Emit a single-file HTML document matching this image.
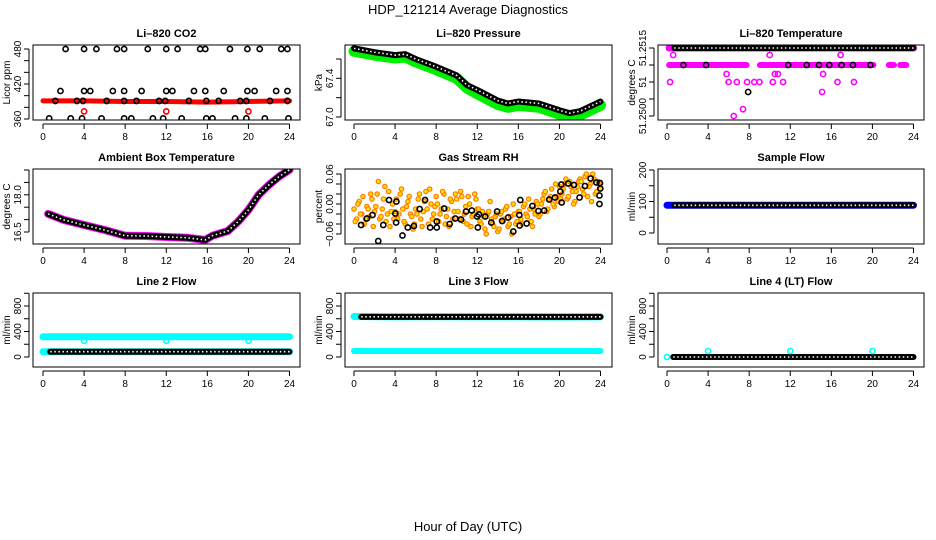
<!DOCTYPE html>
<html><head><meta charset="utf-8"><style>
body{margin:0;background:#fff}
svg{display:block;font-family:"Liberation Sans",Arial,sans-serif}
</style></head><body>
<svg id="fig" width="936" height="540" viewBox="0 0 936 540" xmlns="http://www.w3.org/2000/svg">
<rect width="936" height="540" fill="#fff"/>
<text x="468" y="14" font-size="13" text-anchor="middle">HDP_121214  Average Diagnostics</text>
<text x="468" y="531" font-size="13" text-anchor="middle">Hour of Day (UTC)</text>
</svg>
<script>
// ---------- data ----------
const xTicks=[0,4,8,12,16,20,24];
// CO2
const co2TopHours=[2.2,4.0,5.2,7.2,7.9,10.2,12.0,13.1,15.3,15.8,18.2,19.9,21.1,23.2,23.8];
const co2MidHours=[1.7,4.0,4.6,6.8,7.9,9.6,12.0,12.6,14.7,15.8,17.6,19.9,20.6,22.7,23.8];
const co2RedLevelHours=[1.2,3.3,3.9,6.2,7.9,9.1,11.3,11.9,14.2,15.9,17.1,19.2,19.8,22.1,23.8];
const co2LowHours=[0.6,2.7,3.8,5.7,7.9,8.6,10.7,11.7,13.5,15.9,16.5,18.7,19.8,21.6,23.9];
const co2Levels=[480,408,391,361];
const co2RedBandHours=[0,4,8,12,16,20,24];
const co2RedBand=[391,391,390,390,389,390,391];
const co2RedPtsHours=[4,12,20];
const co2RedPts=[373,373,373];
// Pressure
const presHours=[0,2,4,5,6,8,10,11,12,14,15,16,18,20,21,22,23,24];
const presBlack=[67.71,67.67,67.64,67.65,67.60,67.52,67.43,67.33,67.28,67.17,67.14,67.16,67.14,67.07,67.04,67.06,67.11,67.16];
const presGreen=[67.68,67.64,67.61,67.62,67.57,67.49,67.40,67.30,67.24,67.13,67.10,67.12,67.10,67.03,67.00,67.02,67.07,67.12];
// Li-820 temperature
const tempTop=51.2515;
const tempRow2=51.251125;
const tempRow2Segs=[[0.2,7.75],[9.05,9.7],[9.9,20.1],[21.6,22.1],[22.7,23.3]];
const tempRow2BlackHours=[1.6,3.8,11.8,13.6,14.8,15.8,17.0,18.1,19.8];
const tempMagHours=[0.6,10.0,16.9,5.8,10.5,10.8,0.3,6.0,6.8,7.8,8.5,9.0,10.3,11.3,15.2,16.6,18.2,15.1,7.4,6.5];
const tempMagVals=[51.251346,51.251346,51.251346,51.250926,51.250926,51.250926,51.25075,51.25075,51.25075,51.25075,51.25075,51.25075,51.25075,51.25075,51.250926,51.25075,51.25075,51.25053,51.25015,51.2500];
const tempBlackHours=[7.9];
const tempBlackVals=[51.25053];
// Ambient box temperature
const ambHours=[0.5,2,4,6,8,10,12,14,15.8,16.5,18,19,20,21,22,23,24];
const ambVals=[17.23,16.99,16.78,16.58,16.35,16.34,16.30,16.27,16.18,16.35,16.54,16.92,17.39,18.0,18.40,18.74,19.01];
// Gas stream RH
const rhBlackHours=[0.69,1.25,1.80,2.36,2.85,3.41,4.03,4.10,4.13,4.72,5.24,5.83,6.39,6.92,7.41,8.06,8.06,8.78,9.31,9.86,10.42,10.91,11.47,11.99,12.06,12.16,12.78,13.37,13.93,14.42,15.01,15.51,16.10,16.13,16.19,16.81,17.37,17.96,18.52,19.01,19.57,20.09,20.19,20.22,20.85,21.41,21.96,22.49,23.04,23.60,23.9,23.9,23.95,23.98];
const rhBlackVals=[-0.042,-0.029,-0.022,-0.074,-0.042,0.008,-0.019,-0.037,0.005,-0.063,-0.047,-0.044,-0.010,0.008,-0.047,-0.047,-0.035,-0.009,-0.040,-0.029,-0.031,-0.015,-0.013,-0.025,-0.047,-0.021,-0.025,-0.037,-0.015,-0.034,-0.027,-0.055,-0.022,-0.043,0.008,-0.039,-0.004,-0.014,-0.013,0.009,0.013,0.025,0.039,0.003,0.041,0.038,0.013,0.036,0.051,0.043,0.017,0.000,0.042,0.031];
const rhOrangeA=[-0.01,-0.03,0.005,-0.02,-0.04,-0.005,-0.025,0.01,-0.015,
0.02,-0.03,-0.01,0.035,-0.02,-0.045,0.0,-0.015,
-0.03,0.02,-0.01,-0.04,0.005,-0.02,-0.05,-0.01,
0.01,-0.03,-0.015,0.025,-0.04,0.0,-0.02,0.015,
-0.035,-0.01,0.02,-0.025,-0.045,0.005,-0.015,0.01,
-0.03,0.015,-0.02,-0.04,0.0,-0.025,0.02,-0.01,
-0.035,-0.015,-0.05,-0.02,0.005,-0.04,-0.025,-0.055,
-0.02,-0.035,-0.01,-0.045,-0.025,0.0,-0.04,-0.015,
-0.03,-0.005,-0.02,0.01,-0.035,-0.01,0.005,-0.025,
0.0,0.02,-0.015,0.01,0.03,-0.005,0.015,0.035,
0.02,0.04,0.01,0.045,0.025,0.005,0.035,0.05,
0.03,0.055,0.015,0.04,0.06,0.02,0.045,0.03];
const rhOrangeB=[-0.035,0.0,-0.02,0.015,-0.03,-0.01,0.02,-0.045,
-0.005,0.045,-0.025,0.01,-0.035,0.025,-0.015,-0.03,
0.01,-0.02,0.03,-0.035,-0.005,0.015,-0.025,-0.04,
-0.02,0.02,-0.045,0.005,-0.01,0.03,-0.03,-0.005,
0.0,-0.02,0.025,-0.04,-0.01,0.01,-0.03,0.02,
-0.015,0.025,-0.035,-0.005,0.015,-0.045,-0.02,0.01,
-0.01,-0.04,-0.025,-0.06,-0.015,-0.03,-0.045,-0.02,
-0.05,-0.015,-0.03,-0.005,-0.04,-0.06,-0.02,-0.035,
-0.015,-0.04,0.0,-0.025,-0.01,-0.045,-0.02,0.0,
-0.02,0.01,0.025,-0.01,0.015,0.0,0.04,0.005,
0.01,0.03,0.05,0.015,0.035,0.0,0.025,0.045,
0.045,0.02,0.06,0.035,0.005,0.05,0.025,0.04];
// Flows
const flowHours=[0,4,8,12,16,20,24];
const sampleBlue=[88,88,88,88,88,88,88];
const sampleBlack=[88,88,88,88,88,88,88];
const line2Cyan=[318,318,318,318,318,318,318];
const line2CyanDipHours=[4,12,20];
const line2CyanDips=[255,255,255];
const line2Black=[83,83,83,83,83,83,83];
const line3Cyan=[635,630,632,630,630,628,630];
const line3Black=[630,630,630,630,630,630,630];
const line3CyanLow=[94,94,94,94,94,94,94];
const line4Black=[0,0,0,0,0,0,0];
const line4CyanHours=[0,4,12,20];
const line4CyanVals=[0,94,94,94];

// ---------- helpers ----------
const NS='http://www.w3.org/2000/svg';
const svg=document.getElementById('fig');
const colX0=[43,354,667], boxL=[33,345,658], boxR=[300,612,924];
const rowTop=[45,169,293], rowBot=[120,244,367];
const XS=246.5/24;
function mk(tag,attrs,parent){const e=document.createElementNS(NS,tag);for(const k in attrs)e.setAttribute(k,attrs[k]);(parent||svg).appendChild(e);return e;}
function linMap(v0,p0,v1,p1){return v=>p0+(v-v0)*(p1-p0)/(v1-v0);}

function panel(name,col,row,title,ylab,ymap,yTicks,yLabels){
  const g=mk('g',{});
  
  
  const xf=h=>colX0[col]+h*XS;
  const t=mk('text',{x:(boxL[col]+boxR[col])/2,y:rowTop[row]-8,'font-size':11,'font-weight':'bold','text-anchor':'middle'},g);
  t.textContent=title;
  
  
  const yl=mk('text',{transform:`translate(${boxL[col]-23},${(rowTop[row]+rowBot[row])/2}) rotate(-90)`,'font-size':10,'text-anchor':'middle'},g);
  yl.textContent=ylab;
  
  
  const xa=mk('g',{},g);
  
  
  mk('line',{x1:xf(0),x2:xf(24),y1:rowBot[row]+4,y2:rowBot[row]+4,stroke:'#000'},xa);
  xTicks.forEach(v=>{
    mk('line',{x1:xf(v),x2:xf(v),y1:rowBot[row]+4,y2:rowBot[row]+9,stroke:'#000'},xa);
    const tl=mk('text',{x:xf(v),y:rowBot[row]+20,'font-size':10,'text-anchor':'middle'},xa);
    tl.textContent=v;
  });
  const ya=mk('g',{},g);
  
  
  mk('line',{x1:boxL[col]-4,x2:boxL[col]-4,y1:ymap(yTicks[0]),y2:ymap(yTicks[yTicks.length-1]),stroke:'#000'},ya);
  yTicks.forEach((v,i)=>{
    const y=ymap(v);
    mk('line',{x1:boxL[col]-9,x2:boxL[col]-4,y1:y,y2:y,stroke:'#000'},ya);
    if(yLabels[i]){
      const tl=mk('text',{transform:`translate(${boxL[col]-12},${y}) rotate(-90)`,'font-size':10,'text-anchor':'middle'},ya);
      tl.textContent=yLabels[i];
    }
  });
  const plot=mk('g',{},g);
  
  
  const clipId='c'+name;
  const cp=mk('clipPath',{id:clipId},g);
  mk('rect',{x:boxL[col],y:rowTop[row],width:boxR[col]-boxL[col],height:rowBot[row]-rowTop[row]},cp);
  plot.setAttribute('clip-path',`url(#${clipId})`);
  mk('rect',{x:boxL[col],y:rowTop[row],width:boxR[col]-boxL[col],height:rowBot[row]-rowTop[row],fill:'none',stroke:'#000'},g);
  return {plot,xf,ymap};
}
function pts(P,hours,vals,color,name,r,fill,sw){
  hours.forEach((h,i)=>{
    const c=mk('circle',{cx:P.xf(h),cy:P.ymap(vals[i]),r:r||2.6,fill:fill||'none',stroke:color,'stroke-width':sw||1.6},P.plot);
    
    
  });
}
function band(P,hours,vals,color,w,name){
  const l=mk('polyline',{points:hours.map((h,i)=>P.xf(h)+','+P.ymap(vals[i])).join(' '),fill:'none',stroke:color,'stroke-width':w,'stroke-linejoin':'round','stroke-linecap':'round'},P.plot);
  
  
  return l;
}
function chain(P,hours,vals,color,name){
  band(P,hours,vals,color,6,name);
  const l=mk('polyline',{points:hours.map((h,i)=>P.xf(h)+','+P.ymap(vals[i])).join(' '),fill:'none',stroke:'#fff','stroke-width':1.6,'stroke-dasharray':'1.5 2.6'},P.plot);
  
  
}

// ---------- panels ----------
{const P=panel('co2',0,0,'Li\u2013820 CO2','Licor ppm',linMap(360,119,480,49),[360,380,400,420,440,460,480],['360','','','420','','','480']);
 band(P,co2RedBandHours,co2RedBand,'#ff0000',5,'co2-red-band');
 pts(P,co2TopHours,co2TopHours.map(()=>co2Levels[0]),'#000','co2-point');
 pts(P,co2MidHours,co2MidHours.map(()=>co2Levels[1]),'#000','co2-point');
 pts(P,co2RedLevelHours,co2RedLevelHours.map(()=>co2Levels[2]),'#000','co2-point');
 pts(P,co2LowHours,co2LowHours.map(()=>co2Levels[3]),'#000','co2-point');
 pts(P,co2RedPtsHours,co2RedPts,'#ff0000','co2-red-point');}
{const P=panel('pressure',1,0,'Li\u2013820 Pressure','kPa',linMap(67.0,117,67.6,59),[67.0,67.2,67.4,67.6],['67.0','','67.4','']);
 band(P,presHours,presGreen,'#00ee00',11,'pressure-green-band');
 chain(P,presHours,presBlack,'#000','pressure-black-series');}
{const P=panel('li820-temp',2,0,'Li\u2013820 Temperature','degrees C',linMap(51.25,116,51.2515,48),[51.25,51.250375,51.25075,51.251125,51.2515],['51.2500','','51','','51.2515']);
 band(P,[0.2,24],[tempTop,tempTop],'#ff00ff',7,'temp-magenta-top');
 chain(P,[0.7,24],[tempTop,tempTop],'#000','temp-black-top');
 tempRow2Segs.forEach(s=>band(P,s,[tempRow2,tempRow2],'#ff00ff',6,'temp-magenta-row2'));
 pts(P,tempRow2BlackHours,tempRow2BlackHours.map(()=>tempRow2),'#000','temp-black-point');
 pts(P,tempMagHours,tempMagVals,'#ff00ff','temp-magenta-point');
 pts(P,tempBlackHours,tempBlackVals,'#000','temp-black-point');}
{const P=panel('ambient-temp',0,1,'Ambient Box Temperature','degrees C',linMap(16.5,232,19.0,170),[16.5,17.0,17.5,18.0,18.5,19.0],['16.5','','','18.0','','']);
 band(P,ambHours,ambVals,'#ff00ff',8,'ambient-magenta-band');
 chain(P,ambHours,ambVals,'#000','ambient-black-series');}
{const P=panel('gas-rh',1,1,'Gas Stream RH','percent',linMap(-0.06,234,0.06,174),[-0.06,-0.04,-0.02,0,0.02,0.04,0.06],['\u22120.06','','','0.00','','','0.06']);
 pts(P,rhOrangeA.map((v,i)=>i*0.25),rhOrangeA,'#ff7a00','rh-orange-point',2.2,'#ffe000',1.2);
 pts(P,rhOrangeB.map((v,i)=>0.125+i*0.25),rhOrangeB,'#ff7a00','rh-orange-point',2.2,'#ffe000',1.2);
 pts(P,rhBlackHours,rhBlackVals,'#000','rh-black-point');}
{const P=panel('sample-flow',2,1,'Sample Flow','ml/min',linMap(0,233,200,170),[0,50,100,150,200],['0','','100','','200']);
 band(P,flowHours,sampleBlue,'#0000ff',7,'sample-blue-band');
 chain(P,flowHours.map(h=>Math.max(h,0.7)),sampleBlack,'#000','sample-black-series');}
{const P=panel('line2-flow',0,2,'Line 2 Flow','ml/min',linMap(0,357,800,306),[0,200,400,600,800,1000],['0','','400','','800','']);
 band(P,flowHours,line2Cyan,'#00ffff',7,'line2-cyan-band');
 pts(P,line2CyanDipHours,line2CyanDips,'#00ffff','line2-cyan-point');
 band(P,flowHours,line2Black,'#00ffff',7,'line2-cyan-low');
 chain(P,flowHours.map(h=>Math.max(h,0.7)),line2Black,'#000','line2-black-series');}
{const P=panel('line3-flow',1,2,'Line 3 Flow','ml/min',linMap(0,357,800,306),[0,200,400,600,800,1000],['0','','400','','800','']);
 band(P,flowHours,line3Cyan,'#00ffff',7,'line3-cyan-band');
 chain(P,flowHours.map(h=>Math.max(h,0.7)),line3Black,'#000','line3-black-series');
 band(P,flowHours,line3CyanLow,'#00ffff',6,'line3-cyan-low');}
{const P=panel('line4-flow',2,2,'Line 4 (LT) Flow','ml/min',linMap(0,357,800,306),[0,200,400,600,800,1000],['0','','400','','800','']);
 chain(P,flowHours.map(h=>Math.max(h,0.6)),line4Black,'#000','line4-black-series');
 pts(P,line4CyanHours,line4CyanVals,'#00ffff','line4-cyan-point');}
</script>
</body></html>
